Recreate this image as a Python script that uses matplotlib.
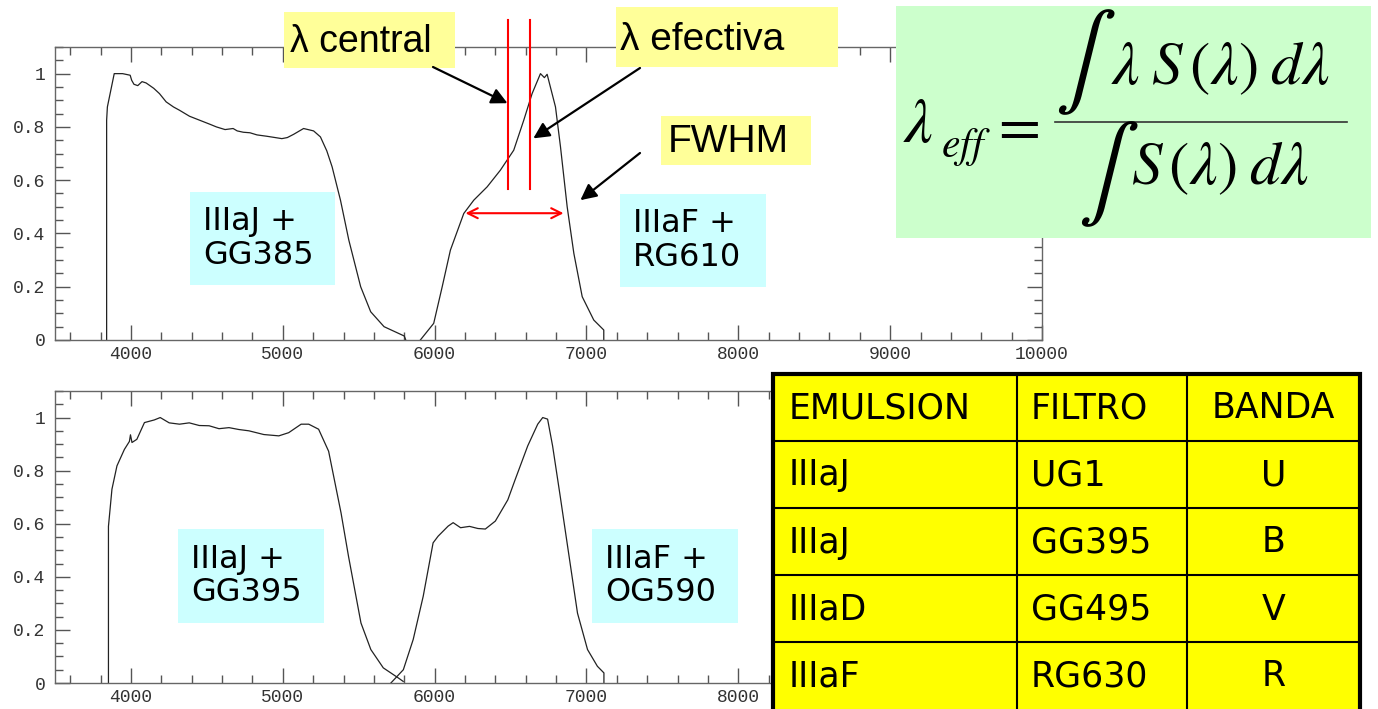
import numpy as np
import matplotlib
matplotlib.use('Agg')
import matplotlib.pyplot as plt
from matplotlib.patches import Rectangle
from matplotlib.ticker import MultipleLocator, FuncFormatter

plt.rcParams['mathtext.fontset'] = 'stix'

W, H = 1378, 709  # output size in pixels

# --- curves (wavelength in Angstrom, normalised response) ---
# top panel: IIIaJ + GG385 and IIIaF + RG610
j385_wl = [3840, 3840, 3845, 3890, 3945, 3995, 4005, 4020, 4045, 4073, 4100, 4150, 4188,
           4232, 4280, 4320, 4386, 4453, 4520, 4563, 4620, 4673, 4700, 4740, 4784, 4830,
           4894, 4950, 4994, 5030, 5071, 5137, 5203, 5248, 5290, 5325, 5380, 5435, 5513,
           5579, 5667, 5800, 5810]
j385_s = [0, 0.825, 0.875, 1.0, 1.0, 0.994, 0.975, 0.96, 0.955, 0.97, 0.965, 0.945, 0.925,
          0.894, 0.875, 0.8625, 0.84, 0.825, 0.81, 0.80, 0.79, 0.794, 0.785, 0.78, 0.778, 0.77,
          0.765, 0.76, 0.756, 0.76, 0.772, 0.794, 0.785, 0.7625, 0.71, 0.65, 0.525, 0.375, 0.2,
          0.106, 0.05, 0.015, 0.0]

f610_wl = [5906, 5994, 6050, 6104, 6192, 6258, 6346, 6433, 6521, 6587, 6642, 6697, 6723,
           6741, 6796, 6829, 6873, 6917, 6972, 7048, 7114, 7114]
f610_s = [0, 0.0625, 0.2, 0.3375, 0.475, 0.525, 0.575, 0.6375, 0.7125, 0.825, 0.925, 1.0,
          0.985, 0.9975, 0.875, 0.725, 0.5, 0.325, 0.1625, 0.075, 0.0375, 0]

# bottom panel: IIIaJ + GG395 and IIIaF + OG590
j395_wl = [3852, 3852, 3875, 3908, 3957, 3990, 3997, 4007, 4039, 4089, 4154, 4193, 4252,
           4320, 4384, 4450, 4515, 4580, 4646, 4710, 4777, 4875, 4974, 5039, 5121, 5171,
           5236, 5302, 5384, 5433, 5515, 5580, 5662, 5761, 5793]
j395_s = [0, 0.59, 0.73, 0.818, 0.88, 0.91, 0.935, 0.906, 0.918, 0.981, 0.991, 1.0, 0.98,
          0.975, 0.98, 0.97, 0.969, 0.958, 0.962, 0.955, 0.95, 0.936, 0.931, 0.943, 0.975,
          0.975, 0.956, 0.873, 0.64, 0.477, 0.226, 0.126, 0.057, 0.019, 0.006]

f590_wl = [5712, 5794, 5859, 5925, 5990, 6023, 6089, 6122, 6171, 6230, 6285, 6334, 6400,
           6482, 6531, 6613, 6679, 6712, 6744, 6777, 6827, 6876, 6941, 7007, 7072, 7115, 7115]
f590_s = [0, 0.05, 0.164, 0.327, 0.528, 0.553, 0.591, 0.604, 0.585, 0.59, 0.582, 0.58, 0.61,
          0.69, 0.767, 0.893, 0.975, 1.0, 0.994, 0.893, 0.704, 0.514, 0.263, 0.126, 0.063,
          0.038, 0]

# markers on the RG610 band
lam_central = 6480
lam_eff = 6630
fwhm_lo, fwhm_hi, half_level = 6203, 6849, 0.476

# table
emulsion = ['IIIaJ', 'IIIaJ', 'IIIaD', 'IIIaF']
filtro = ['UG1', 'GG395', 'GG495', 'RG630']
banda = ['U', 'B', 'V', 'R']

fig = plt.figure(figsize=(W / 100, H / 100), dpi=100)


def px_axes(x0, y0, x1, y1):
    # pixel box (top-left origin) -> figure fraction rect
    return [x0 / W, 1 - y1 / H, (x1 - x0) / W, (y1 - y0) / H]


def style_axes(ax, xmax_label=10000):
    ax.set_xlim(3500, 10000)
    ax.set_ylim(0, 1.1)
    ax.xaxis.set_major_locator(MultipleLocator(1000))
    ax.xaxis.set_minor_locator(MultipleLocator(200))
    ax.yaxis.set_major_locator(MultipleLocator(0.2))
    ax.yaxis.set_minor_locator(MultipleLocator(0.05))
    ax.xaxis.set_major_formatter(FuncFormatter(
        lambda v, p: '%d' % v if v <= xmax_label else ''))
    ax.yaxis.set_major_formatter(FuncFormatter(lambda v, p: '%g' % round(v, 2)))
    ax.tick_params(which='both', direction='in', top=True, right=True, color='#555555',
                   labelsize=13, labelcolor='#333333', width=1)
    ax.tick_params(which='major', length=11)
    ax.tick_params(which='minor', length=6)
    ax.tick_params(axis='y', pad=7)
    ax.tick_params(axis='x', pad=4)
    for lab in ax.get_xticklabels() + ax.get_yticklabels():
        lab.set_family('Liberation Mono')
    for s in ax.spines.values():
        s.set_color('#666666')
        s.set_linewidth(1)


ax1 = fig.add_axes(px_axes(55, 47, 1042, 340))
ax1.plot(j385_wl, j385_s, color='#222222', lw=0.9)
ax1.plot(f610_wl, f610_s, color='#222222', lw=0.9)
style_axes(ax1)

ax2 = fig.add_axes(px_axes(55, 391, 1042, 683))
ax2.plot(j395_wl, j395_s, color='#222222', lw=0.9)
ax2.plot(f590_wl, f590_s, color='#222222', lw=0.9)
style_axes(ax2, xmax_label=8000)

# red markers
for lam in (lam_central, lam_eff):
    ax1.plot([lam, lam], [0.566, 1.2], color='red', lw=1.5, clip_on=False, zorder=4)
ax1.annotate('', xy=(fwhm_hi, half_level), xytext=(fwhm_lo, half_level),
             arrowprops=dict(arrowstyle='<->', color='red', lw=1.5, mutation_scale=18,
                             shrinkA=0, shrinkB=0))

# overlay in pixel coords for boxes, formula, table
ov = fig.add_axes([0, 0, 1, 1], zorder=5)
ov.set_xlim(0, W)
ov.set_ylim(H, 0)
ov.axis('off')
ov.patch.set_alpha(0)


def box(x0, y0, x1, y1, color):
    ov.add_patch(Rectangle((x0, y0), x1 - x0, y1 - y0, facecolor=color, edgecolor='none'))


# yellow labels
box(284, 12, 455, 68, '#FFFF99')
ov.text(290, 42, 'λ central', fontsize=27, family='Liberation Sans', va='center', ha='left')
box(616, 7, 838, 67, '#FFFF99')
ov.text(620, 40, 'λ efectiva', fontsize=28, family='Liberation Sans', va='center', ha='left')
box(661, 116, 811, 165, '#FFFF99')
ov.text(668, 142, 'FWHM', fontsize=28, family='Liberation Sans', va='center', ha='left')

arrow = dict(arrowstyle='-|>', color='black', lw=1.6, mutation_scale=24, shrinkA=0, shrinkB=0)
ov.annotate('', xy=(lam_central, 0.889), xycoords=ax1.transData,
            xytext=(433, 67), textcoords='data', arrowprops=arrow)
ov.annotate('', xy=(lam_eff + 20, 0.757), xycoords=ax1.transData,
            xytext=(640, 68), textcoords='data', arrowprops=arrow)
ov.annotate('', xy=(6960, 0.525), xycoords=ax1.transData,
            xytext=(640, 153), textcoords='data', arrowprops=arrow)

# cyan filter labels
cyan = '#CCFFFF'
labels = [((190, 192, 335, 285), 'IIIaJ +\nGG385'),
          ((620, 194, 766, 287), 'IIIaF +\nRG610'),
          ((178, 529, 324, 623), 'IIIaJ +\nGG395'),
          ((592, 529, 738, 623), 'IIIaF +\nOG590')]
for (x0, y0, x1, y1), txt in labels:
    box(x0, y0, x1, y1, cyan)
    ov.text(x0 + 13, (y0 + y1) / 2, txt, fontsize=23, va='center', ha='left',
            linespacing=1.1)

# formula
box(896, 6, 1371, 238, '#CCFFCC')
ov.text(903, 124, r'$\lambda$', fontsize=46, va='center', ha='left')
ov.text(941, 147, r'$eff$', fontsize=30, va='center', ha='left')
ov.text(990, 127, r'$=$', fontsize=44, va='center', ha='left')
ov.plot([1055, 1347], [122, 122], color='#333333', lw=1.2)
ov.text(1055, 62, r'$\int$', fontsize=66, va='center', ha='left')
ov.text(1220, 68, r'$\lambda\;S\,(\lambda)\;d\lambda$', fontsize=44, va='center', ha='center')
ov.text(1078, 174, r'$\int$', fontsize=66, va='center', ha='left')
ov.text(1220, 168, r'$S\,(\lambda)\;d\lambda$', fontsize=44, va='center', ha='center')

# table
col_edges = [773, 1017, 1187, 1360]
row_h = 67
top = 374
n_rows = len(emulsion) + 1
ov.add_patch(Rectangle((col_edges[0], top), col_edges[-1] - col_edges[0], row_h * n_rows + 20,
                       facecolor='#FFFF00', edgecolor='black', lw=3))
for xe in col_edges[1:-1]:
    ov.plot([xe, xe], [top, H + 10], color='black', lw=1.5)
for i in range(1, n_rows):
    ov.plot([col_edges[0], col_edges[-1]], [top + i * row_h] * 2, color='black', lw=1.5)

rows = [('EMULSION', 'FILTRO', 'BANDA')] + list(zip(emulsion, filtro, banda))
for i, (e, f, b) in enumerate(rows):
    yc = top + (i + 0.5) * row_h + 1
    ov.text(col_edges[0] + 16, yc, e, fontsize=25, va='center', ha='left')
    ov.text(col_edges[1] + 14, yc, f, fontsize=25, va='center', ha='left')
    ov.text((col_edges[2] + col_edges[3]) / 2, yc, b, fontsize=25, va='center', ha='center')

fig.savefig('out.png', dpi=100)
